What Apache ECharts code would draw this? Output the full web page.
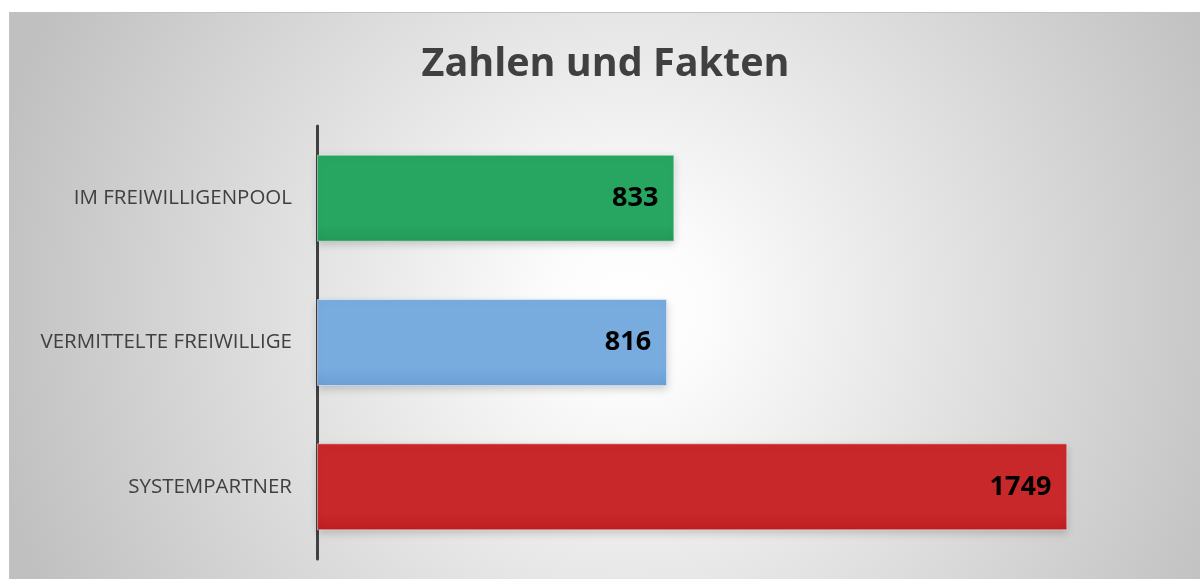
<!DOCTYPE html>
<html>
<head>
<meta charset="utf-8">
<script src="https://cdn.jsdelivr.net/npm/echarts@6/dist/echarts.min.js"></script>
<style>
    html, body { margin: 0; padding: 0; background: #fff; overflow: hidden; }
    #chart { position: absolute; left: 9px; top: 12px; width: 1191px; height: 567px;
             border-top: 1px solid #c2c2c2; border-left: 1px solid #c2c2c2; }
</style>
</head>
<body>
<div id="chart"></div>
<script>
// Kategorien von unten nach oben
var categories = ['SYSTEMPARTNER', 'VERMITTELTE FREIWILLIGE', 'IM FREIWILLIGENPOOL'];
var values = [1749, 816, 833];
var barColors = [
    ['#c9282a', '#bf1e1f'],
    ['#78abde', '#6aa0d6'],
    ['#27a661', '#229a58']
];

var myChart = echarts.init(document.getElementById('chart'));

var option = {
    backgroundColor: new echarts.graphic.RadialGradient(0.52, 0.52, 1.15, [
        {offset: 0, color: '#ffffff'},
        {offset: 0.12, color: '#fcfcfc'},
        {offset: 1, color: '#c0c0c0'}
    ]),
    title: {
        text: 'Zahlen und Fakten',
        left: 'center',
        top: 27,
        textStyle: {
            fontFamily: 'Open Sans',
            fontWeight: 'bold',
            fontSize: 39.5,
            color: '#404040'
        }
    },
    grid: {
        left: 307,
        right: 26,
        top: 113,
        bottom: 21,
        containLabel: false
    },
    xAxis: {
        type: 'value',
        min: 0,
        max: 2000,
        show: false
    },
    yAxis: {
        type: 'category',
        data: categories,
        axisLine: {
            show: true,
            lineStyle: {color: '#404040', width: 3}
        },
        axisTick: {show: false},
        axisLabel: {
            margin: 25,
            fontFamily: 'Open Sans',
            fontSize: 20.5,
            color: '#404040'
        }
    },
    series: [
        {
            type: 'bar',
            barWidth: 87,
            data: values.map(function (v, i) {
                return {
                    value: v,
                    itemStyle: {
                        color: new echarts.graphic.LinearGradient(0, 0, 0, 1, [
                            {offset: 0, color: barColors[i][0]},
                            {offset: 0.8, color: barColors[i][0]},
                            {offset: 1, color: barColors[i][1]}
                        ])
                    }
                };
            }),
            itemStyle: {
                borderColor: 'rgba(255,255,255,0.45)',
                borderWidth: 1,
                shadowColor: 'rgba(0,0,0,0.18)',
                shadowBlur: 8,
                shadowOffsetY: 3
            },
            label: {
                show: true,
                position: 'insideRight',
                distance: 16,
                fontFamily: 'Open Sans',
                fontWeight: 'bold',
                fontSize: 27,
                color: '#000'
            },
            silent: true
        }
    ]
};

myChart.setOption(option);
</script>
</body>
</html>
